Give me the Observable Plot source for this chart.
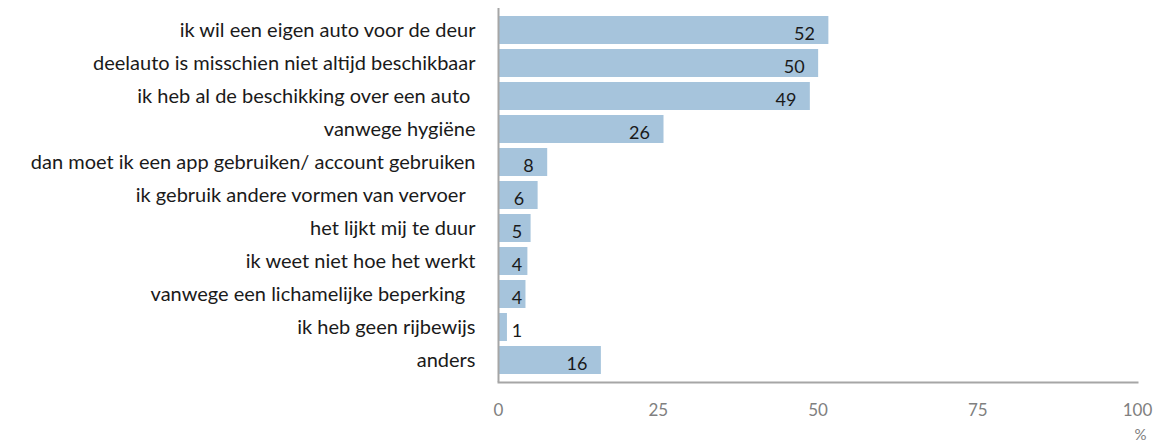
<!DOCTYPE html>
<html><head><meta charset="utf-8">
<script src="https://cdn.jsdelivr.net/npm/d3@7"></script>
<script src="https://cdn.jsdelivr.net/npm/@observablehq/plot@0.6"></script>
<style>body{margin:0;background:#fff} svg text{white-space:pre}</style>
</head><body><div id="chart"></div>
<script>
const categories = [
  "ik wil een eigen auto voor de deur",
  "deelauto is misschien niet altijd beschikbaar",
  "ik heb al de beschikking over een auto ",
  "vanwege hygiëne",
  "dan moet ik een app gebruiken/ account gebruiken",
  "ik gebruik andere vormen van vervoer  ",
  "het lijkt mij te duur",
  "ik weet niet hoe het werkt",
  "vanwege een lichamelijke beperking  ",
  "ik heb geen rijbewijs",
  "anders"
];
const values = [51.7, 50.1, 48.8, 25.9, 7.7, 6.2, 5.1, 4.6, 4.3, 1.4, 16.1];
const valueLabels = ["52", "50", "49", "26", "8", "6", "5", "4", "4", "1", "16"];
const xTicks = [0, 25, 50, 75, 100];
const unitLabel = "%";

const data = categories.map((c, i) => ({category: c, value: values[i], label: valueLabels[i]}));

const chart = Plot.plot({
  width: 1161, height: 444,
  marginLeft: 498, marginRight: 24, marginTop: 8, marginBottom: 62,
  style: {fontFamily: "Lato, sans-serif", fontSize: "18px", background: "#fff"},
  x: {domain: [0, 100], ticks: xTicks},
  y: {domain: categories, paddingInner: 0.156, paddingOuter: 0.09},
  marks: [
    Plot.barX(data, {y: "category", x: "value", fill: "#a6c4dc"}),
    Plot.text(data, {y: "category", x: d => Math.max(d.value, 5.9), text: "label",
      textAnchor: "end", dx: -14, dy: 4, fill: "#1a1a1a", fontSize: 18}),
    Plot.ruleX([0], {stroke: "#a6a6a6", strokeWidth: 2}),
    Plot.frame({anchor: "bottom", stroke: "#a6a6a6", strokeWidth: 2}),
    Plot.axisY({tickSize: 0, tickPadding: 23, fill: "#1a1a1a", fontSize: 20, label: null}),
    Plot.axisX({ticks: xTicks, tickSize: 0, tickPadding: 21, fill: "#808080", fontSize: 17, label: null}),
    Plot.text([unitLabel], {text: d => d, frameAnchor: "bottom-right", textAnchor: "end",
      lineAnchor: "bottom", dx: 9, dy: 57, fill: "#808080", fontSize: 15})
  ]
});
document.getElementById("chart").appendChild(chart);
</script>
</body></html>
